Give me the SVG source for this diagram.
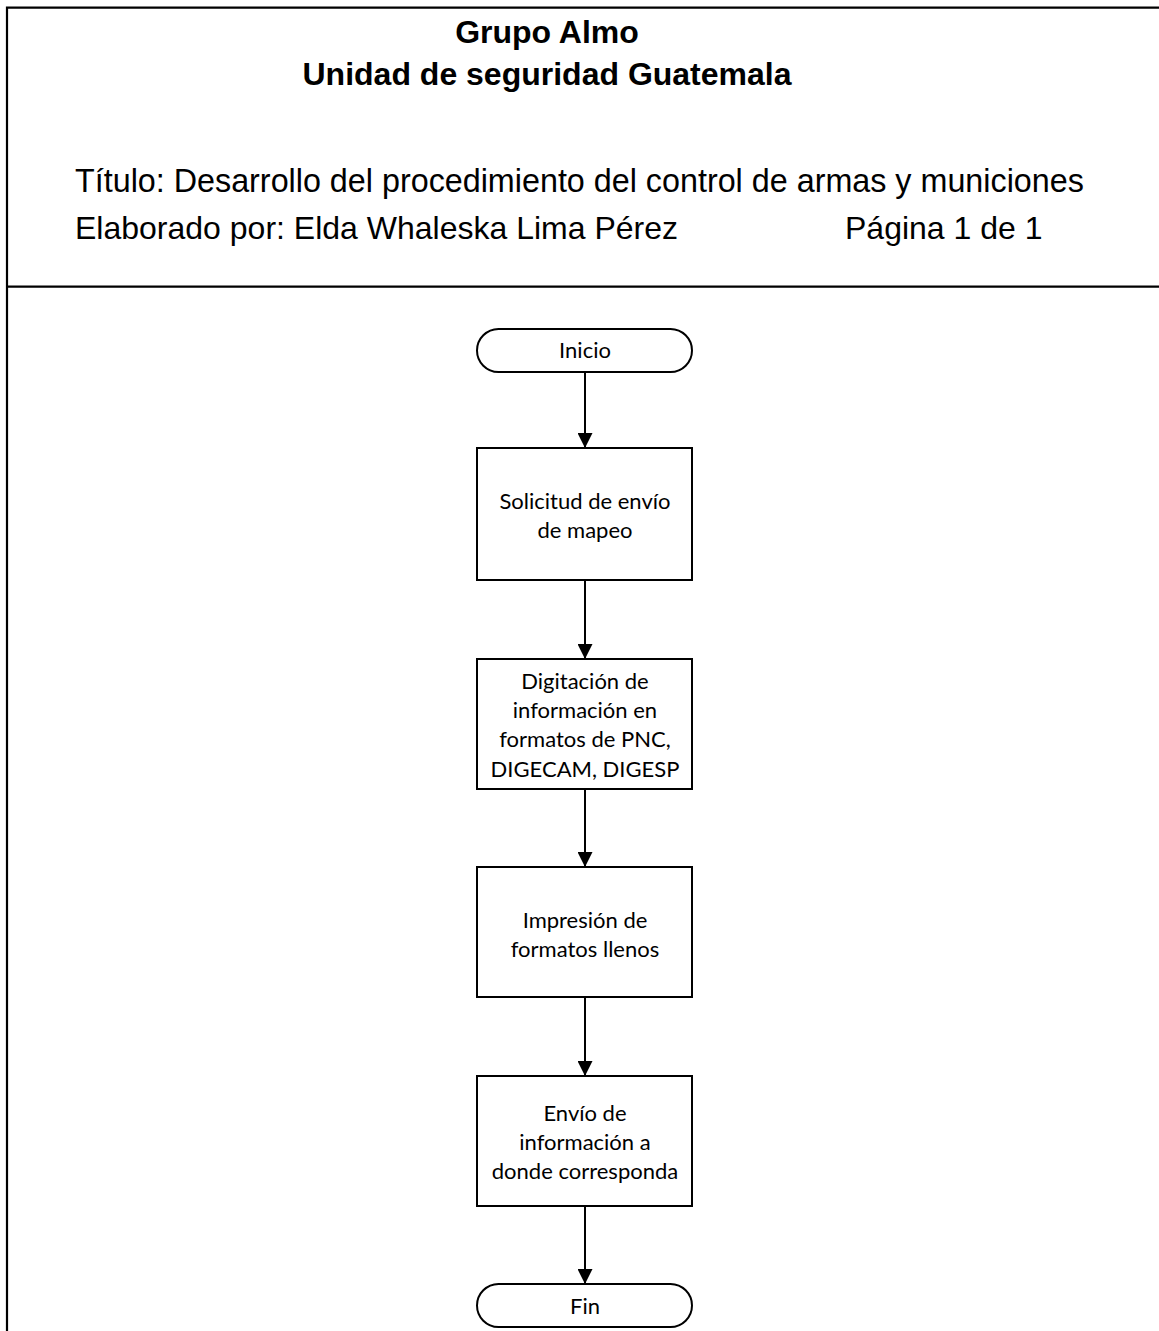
<svg xmlns="http://www.w3.org/2000/svg" width="1159" height="1331" viewBox="0 0 1159 1331">
  <style>
    .frame { fill: none; stroke: #000; stroke-width: 2.2; }
    .shape { fill: #fff; stroke: #000; stroke-width: 2; }
    .conn { fill: none; stroke: #000; stroke-width: 2; marker-end: url(#arrow); }
    .title { font-family: "Liberation Sans", Arial, sans-serif; font-weight: bold; font-size: 32px; fill: #000; text-anchor: middle; }
    .hdr { font-family: "Liberation Sans", Arial, sans-serif; font-size: 32px; fill: #000; }
    .lbl { font-family: Lato, "Open Sans", sans-serif; font-size: 22px; fill: #000; text-anchor: middle; }
  </style>
  <defs>
    <marker id="arrow" markerUnits="userSpaceOnUse" markerWidth="15" markerHeight="15" refX="15" refY="7.5" orient="auto">
      <path d="M0,0 L15,7.5 L0,15 z" fill="#000"/>
    </marker>
  </defs>
  <rect width="1159" height="1331" fill="#fff"/>

  <g id="frame">
    <path class="frame" d="M7,1331 L7,7.7 L1159,7.7 M7,286.7 L1159,286.7"/>
  </g>

  <g id="header">
    <text class="title" x="547" y="43">Grupo Almo</text>
    <text class="title" x="547" y="85">Unidad de seguridad Guatemala</text>
    <text class="hdr" x="75" y="192" style="font-size:32.3px">Título: Desarrollo del procedimiento del control de armas y municiones</text>
    <text class="hdr" x="75" y="239">Elaborado por: Elda Whaleska Lima Pérez</text>
    <text class="hdr" x="845" y="239">Página 1 de 1</text>
  </g>

  <g id="connectors">
    <line class="conn" x1="585" y1="372" x2="585" y2="448"/>
    <line class="conn" x1="585" y1="580" x2="585" y2="659"/>
    <line class="conn" x1="585" y1="789" x2="585" y2="867"/>
    <line class="conn" x1="585" y1="997" x2="585" y2="1076"/>
    <line class="conn" x1="585" y1="1206" x2="585" y2="1284"/>
  </g>

  <g id="inicio">
    <rect class="shape" x="477" y="329" width="215" height="43" rx="21.5" ry="21.5"/>
    <text class="lbl" x="585" y="358">Inicio</text>
  </g>

  <g id="solicitud">
    <rect class="shape" x="477" y="448" width="215" height="132"/>
    <text class="lbl" x="585" y="509">Solicitud de envío</text>
    <text class="lbl" x="585" y="538">de mapeo</text>
  </g>

  <g id="digitacion">
    <rect class="shape" x="477" y="659" width="215" height="130"/>
    <text class="lbl" x="585" y="689">Digitación de</text>
    <text class="lbl" x="585" y="718">información en</text>
    <text class="lbl" x="585" y="747">formatos de PNC,</text>
    <text class="lbl" x="585" y="777">DIGECAM, DIGESP</text>
  </g>

  <g id="impresion">
    <rect class="shape" x="477" y="867" width="215" height="130"/>
    <text class="lbl" x="585" y="928">Impresión de</text>
    <text class="lbl" x="585" y="957">formatos llenos</text>
  </g>

  <g id="envio">
    <rect class="shape" x="477" y="1076" width="215" height="130"/>
    <text class="lbl" x="585" y="1121">Envío de</text>
    <text class="lbl" x="585" y="1150">información a</text>
    <text class="lbl" x="585" y="1179">donde corresponda</text>
  </g>

  <g id="fin">
    <rect class="shape" x="477" y="1284" width="215" height="43" rx="21.5" ry="21.5"/>
    <text class="lbl" x="585" y="1314">Fin</text>
  </g>
</svg>
